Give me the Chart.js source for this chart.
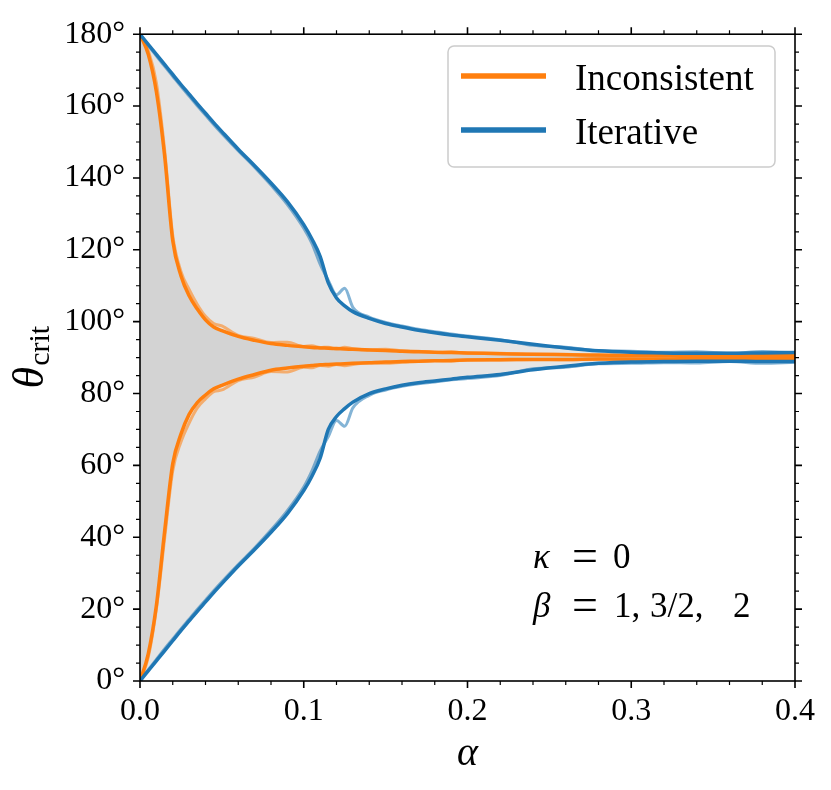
<!DOCTYPE html>
<html lang="en">
<head>
<meta charset="UTF-8">
<title>Critical angle vs alpha</title>
<script src="https://cdn.jsdelivr.net/npm/chart.js"></script>
<style>
body { margin: 0; padding: 0; background: #fff; }
canvas { display: block; }
</style>
</head>
<body>
<canvas id="critChart" width="831" height="790"></canvas>

<script>
// alpha grid shared by every curve
const alpha = [0,0.005,0.01,0.015,0.02,0.025,0.03,0.035,0.04,0.045,0.05,0.06,0.07,0.08,0.09,0.1,0.105,0.11,0.115,0.12,0.125,0.13,0.14,0.15,0.16,0.17,0.18,0.19,0.2,0.22,0.24,0.26,0.28,0.3,0.32,0.34,0.36,0.38,0.4];

// Iterative (blue), upper and lower branch
const iterUpper = [180,177.2,174.4,171.6,168.8,166.0,163.3,160.6,158.0,155.4,152.9,148.0,143.4,138.6,133.4,127.0,123.0,118.2,110.8,106.6,104.4,102.8,100.9,99.5,98.5,97.6,96.9,96.3,95.8,94.8,93.7,92.7,91.9,91.5,91.3,91.2,91.2,91.3,91.4];
const iterLower = [0,2.8,5.6,8.4,11.2,14.0,16.7,19.4,22.0,24.6,27.1,32.0,36.6,41.4,46.6,53.0,57.0,62.0,70.0,73.6,75.8,77.6,80.0,81.3,82.3,83.0,83.5,84.0,84.5,85.3,86.6,87.6,88.4,88.8,88.9,89.0,89.0,88.9,88.9];
// second beta run, drawn faint
const iterUpper2 = [180,176.9,174.0,171.1,168.3,165.5,162.8,160.1,157.5,154.9,152.4,147.6,143.0,138.0,132.6,126.0,121.8,116.0,111.5,107.5,109.3,104.0,101.3,99.8,98.8,97.9,97.2,96.6,96.0,95.0,93.4,92.9,91.9,91.8,91.5,91.6,91.2,91.7,91.4];
const iterLower2 = [0,3.1,6.0,8.9,11.7,14.5,17.2,19.9,22.5,25.1,27.6,32.4,37.0,42.0,47.4,54.0,58.5,64.0,68.0,72.5,70.9,76.0,79.5,81.0,82.0,82.7,83.2,83.8,84.2,85.0,86.9,87.3,88.3,88.4,88.6,88.5,88.9,88.4,88.7];

// Inconsistent (orange), upper and lower branch
const incUpper = [180,174.5,164,146.3,122.5,112.8,107.2,103.5,100.5,98.5,97.5,95.9,94.8,93.9,93.4,93.0,92.8,92.7,92.6,92.5,92.4,92.3,92.1,92.0,91.8,91.6,91.5,91.4,91.3,91.1,90.9,90.8,90.7,90.6,90.6,90.5,90.5,90.5,90.5];
const incLower = [0,7.5,21,41.5,60.5,68.7,74.2,77.5,79.6,81.3,82.3,84.0,85.3,86.5,87.1,87.6,87.8,88.0,88.1,88.2,88.3,88.4,88.6,88.8,88.9,89.0,89.1,89.2,89.3,89.4,89.5,89.5,89.6,89.6,89.6,89.7,89.7,89.7,89.7];
const incUpper2 = [180,175.5,166.5,148,124,114,109,104.8,101.5,99.5,98.8,96.2,95.3,94.2,94.3,93.1,93.3,92.8,92.9,92.4,92.9,92.5,92.2,92.3,91.9,91.8,91.4,91.6,91.2,91.2,90.9,90.9,90.6,90.8,90.5,90.7,90.5,90.6,90.5];
const incLower2 = [0,6.5,20,39.5,58.5,66.5,71.8,76.0,78.5,80.5,81.0,83.6,84.6,86.1,86.0,87.3,87.2,87.8,87.6,88.1,87.7,88.1,88.5,88.4,88.7,88.9,89.2,89.0,89.4,89.3,89.5,89.4,89.6,89.5,89.6,89.6,89.7,89.6,89.7];

// ticks
const xTicks = [0, 0.1, 0.2, 0.3, 0.4];
const xMinor = [0.02,0.04,0.06,0.08,0.12,0.14,0.16,0.18,0.22,0.24,0.26,0.28,0.32,0.34,0.36,0.38];
const yTicks = [0, 20, 40, 60, 80, 100, 120, 140, 160, 180];
const yMinor = [5,10,15,25,30,35,45,50,55,65,70,75,85,90,95,105,110,115,125,130,135,145,150,155,165,170,175];

const legendItems = [
  { label: 'Inconsistent', color: '#ff7f0e' },
  { label: 'Iterative', color: '#1f77b4' }
];

const BLUE = '#1f77b4', ORANGE = '#ff7f0e';
const SERIF = "'Liberation Serif', 'DejaVu Serif', serif";

const pts = arr => arr.map((v, i) => ({ x: alpha[i], y: v }));

function band(arr, fill, bg, order) {
  return { data: pts(arr), borderWidth: 0, pointRadius: 0, fill: fill,
           backgroundColor: bg, order: order, cubicInterpolationMode: 'monotone' };
}
function curve(arr, color, width, order) {
  return { data: pts(arr), borderColor: color, borderWidth: width, pointRadius: 0,
           fill: false, order: order, cubicInterpolationMode: 'monotone' };
}

// frame, ticks on all sides, legend, annotation, axis titles
const decor = {
  id: 'decor',
  afterDraw(chart) {
    const { ctx, chartArea: a, scales: { x, y } } = chart;
    ctx.save();
    ctx.strokeStyle = '#000';
    ctx.lineWidth = 1.6;
    ctx.strokeRect(a.left, a.top, a.right - a.left, a.bottom - a.top);

    const xt = (v, len, w) => {
      const p = x.getPixelForValue(v);
      ctx.lineWidth = w;
      ctx.beginPath();
      ctx.moveTo(p, a.bottom); ctx.lineTo(p, a.bottom + len);
      ctx.moveTo(p, a.top); ctx.lineTo(p, a.top - len);
      ctx.stroke();
    };
    const yt = (v, len, w) => {
      const p = y.getPixelForValue(v);
      ctx.lineWidth = w;
      ctx.beginPath();
      ctx.moveTo(a.left, p); ctx.lineTo(a.left - len, p);
      ctx.moveTo(a.right, p); ctx.lineTo(a.right + len, p);
      ctx.stroke();
    };
    xTicks.forEach(v => xt(v, 7, 1.6));
    xMinor.forEach(v => xt(v, 4, 1.2));
    yTicks.forEach(v => yt(v, 7, 1.6));
    yMinor.forEach(v => yt(v, 4, 1.2));

    // legend box
    ctx.beginPath();
    ctx.roundRect(448, 46, 327, 121, 6);
    ctx.fillStyle = 'rgba(255,255,255,0.85)';
    ctx.fill();
    ctx.strokeStyle = '#cccccc';
    ctx.lineWidth = 1.5;
    ctx.stroke();
    legendItems.forEach((it, i) => {
      const yy = 76 + i * 54;
      ctx.strokeStyle = it.color;
      ctx.lineWidth = 5.5;
      ctx.beginPath();
      ctx.moveTo(461, yy); ctx.lineTo(546, yy);
      ctx.stroke();
      ctx.fillStyle = '#000';
      ctx.font = '37px ' + SERIF;
      ctx.textBaseline = 'alphabetic';
      ctx.textAlign = 'left';
      ctx.fillText(it.label, 575, yy + 14);
    });

    // annotation
    ctx.fillStyle = '#000';
    ctx.font = 'italic 35px ' + SERIF;
    ctx.fillText('κ', 533, 568);
    ctx.fillText('β', 533, 617);
    ctx.font = '46px ' + SERIF;
    ctx.textAlign = 'center';
    ctx.fillText('=', 585, 571);
    ctx.fillText('=', 585, 620);
    ctx.textAlign = 'left';
    ctx.font = '35px ' + SERIF;
    ctx.fillText('0', 613, 568);
    ctx.fillText('1,', 614, 617);
    ctx.fillText('3/2,', 650, 617);
    ctx.fillText('2', 733, 617);

    // x title
    ctx.font = 'italic 40px ' + SERIF;
    ctx.textAlign = 'center';
    ctx.fillText('α', (a.left + a.right) / 2, 765);

    // y title
    ctx.translate(43, (a.top + a.bottom) / 2);
    ctx.rotate(-Math.PI / 2);
    ctx.textAlign = 'left';
    ctx.font = 'italic 44px ' + SERIF;
    const tw = ctx.measureText('θ').width;
    ctx.font = '30px ' + SERIF;
    const cw = ctx.measureText('crit').width;
    const start = -(tw + cw) / 2;
    ctx.font = 'italic 44px ' + SERIF;
    ctx.fillText('θ', start, 0);
    ctx.font = '30px ' + SERIF;
    ctx.fillText('crit', start + tw + 1, 6);
    ctx.restore();
  }
};

new Chart(document.getElementById('critChart'), {
  type: 'line',
  data: {
    datasets: [
      band(iterUpper, '+1', '#e5e5e5', 20),
      band(iterLower, false, '#e5e5e5', 20),
      band(incUpper, '+1', '#d3d3d3', 19),
      band(incLower, false, '#d3d3d3', 19),
      curve(incUpper2, 'rgba(255,127,14,0.55)', 3, 12),
      curve(incLower2, 'rgba(255,127,14,0.55)', 3, 12),
      curve(incUpper, ORANGE, 3.5, 11),
      curve(incLower, ORANGE, 3.5, 11),
      curve(iterUpper2, 'rgba(31,119,180,0.55)', 3, 10),
      curve(iterLower2, 'rgba(31,119,180,0.55)', 3, 10),
      curve(iterUpper, BLUE, 3.5, 9),
      curve(iterLower, BLUE, 3.5, 9)
    ]
  },
  options: {
    responsive: false,
    animation: false,
    layout: { padding: { top: 27, right: 36, left: 0, bottom: 0 } },
    plugins: { legend: { display: false }, tooltip: { enabled: false } },
    scales: {
      x: {
        type: 'linear', min: 0, max: 0.4,
        grid: { display: false, drawTicks: false },
        border: { display: false },
        afterBuildTicks: s => { s.ticks = xTicks.map(v => ({ value: v })); },
        afterFit: s => { s.height = 109; },
        ticks: {
          padding: 11, color: '#000', maxRotation: 0, autoSkip: false,
          font: { family: SERIF, size: 32 },
          callback: v => Number(v).toFixed(1)
        }
      },
      y: {
        type: 'linear', min: 0, max: 180,
        grid: { display: false, drawTicks: false },
        border: { display: false },
        afterBuildTicks: s => { s.ticks = yTicks.map(v => ({ value: v })); },
        afterFit: s => { s.width = 140; },
        ticks: {
          padding: 15, color: '#000', autoSkip: false,
          font: { family: SERIF, size: 32 },
          callback: v => v + '°'
        }
      }
    }
  },
  plugins: [decor]
});
</script>
</body>
</html>
